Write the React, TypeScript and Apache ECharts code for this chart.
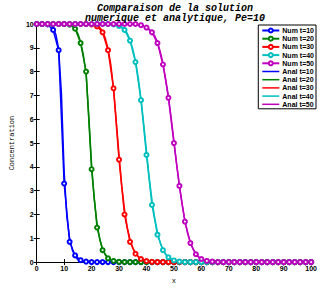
import React, { useEffect, useRef } from "react";
import * as echarts from "echarts";

// Numerical solution grid (x) and concentrations at t = 10..50
const xNum = [
  0, 2, 4, 6, 8, 10, 12, 14, 16, 18, 20, 22, 24, 26, 28, 30, 32, 34, 36, 38, 40,
  42, 44, 46, 48, 50, 52, 54, 56, 58, 60, 62, 64, 66, 68, 70, 72, 74, 76, 78, 80,
  82, 84, 86, 88, 90, 92, 94, 96, 98, 100,
];

const numT10 = [
  10, 10, 9.98, 9.75, 8.9, 3.3, 0.85, 0.28, 0.08, 0.02,
  0, 0, 0, 0, 0, 0, 0, 0, 0, 0, 0, 0, 0, 0, 0, 0, 0, 0, 0, 0, 0,
  0, 0, 0, 0, 0, 0, 0, 0, 0, 0, 0, 0, 0, 0, 0, 0, 0, 0, 0, 0,
];

const numT20 = [
  10, 10, 10, 10, 10, 10,
  9.97, 9.8, 9.2, 8.0, 3.9, 1.45, 0.5, 0.16, 0.05, 0.01,
  0, 0, 0, 0, 0, 0, 0, 0, 0, 0, 0, 0, 0, 0, 0, 0, 0, 0, 0, 0,
  0, 0, 0, 0, 0, 0, 0, 0, 0, 0, 0, 0, 0, 0, 0,
];

const numT30 = [
  10, 10, 10, 10, 10, 10, 10, 10, 10, 10,
  9.98, 9.9, 9.65, 8.9, 7.3, 4.3, 2.0, 0.85, 0.35, 0.13, 0.04, 0.01,
  0, 0, 0, 0, 0, 0, 0, 0, 0, 0, 0, 0, 0, 0, 0,
  0, 0, 0, 0, 0, 0, 0, 0, 0, 0, 0, 0, 0, 0,
];

const numT40 = [
  10, 10, 10, 10, 10, 10, 10, 10, 10, 10, 10, 10, 10, 10,
  9.98, 9.92, 9.75, 9.3, 8.4, 6.8, 4.5, 2.4, 1.15, 0.5, 0.2, 0.07, 0.02,
  0, 0, 0, 0, 0, 0, 0, 0, 0, 0, 0, 0,
  0, 0, 0, 0, 0, 0, 0, 0, 0, 0, 0, 0,
];

const numT50 = [
  10, 10, 10, 10, 10, 10, 10, 10, 10, 10, 10, 10, 10, 10, 10, 10, 10, 10, 10,
  9.95, 9.85, 9.65, 9.2, 8.3, 6.9, 5.0, 3.2, 1.7, 0.8, 0.33, 0.13, 0.05, 0.02,
  0, 0, 0, 0, 0, 0, 0, 0, 0, 0, 0, 0, 0, 0, 0, 0, 0, 0,
];

// Analytical solution as [x, C] points
const analT10: [number, number][] = [
  [0, 10], [4, 10], [5, 9.97], [6, 9.85], [7, 9.55], [8, 8.95], [9, 7.1],
  [10, 3.8], [11, 1.9], [12, 1.0], [13, 0.5], [14, 0.25], [15, 0.1],
  [16, 0.04], [17, 0.01], [18, 0], [100, 0],
];

const analT20: [number, number][] = [
  [0, 10], [12, 10], [13, 9.93], [14, 9.82], [15, 9.6], [16, 9.25], [17, 8.7],
  [18, 7.9], [19, 6.1], [20, 4.1], [21, 2.6], [22, 1.6], [23, 0.95],
  [24, 0.55], [25, 0.3], [26, 0.17], [27, 0.09], [28, 0.04], [29, 0.02],
  [30, 0.01], [31, 0], [100, 0],
];

const analT30: [number, number][] = [
  [0, 10], [21, 10], [22, 9.92], [23, 9.85], [24, 9.7], [25, 9.4], [26, 8.95],
  [27, 8.3], [28, 7.3], [29, 5.9], [30, 4.5], [31, 3.2], [32, 2.2], [33, 1.45],
  [34, 0.95], [35, 0.6], [36, 0.38], [37, 0.22], [38, 0.13], [39, 0.07],
  [40, 0.04], [41, 0.02], [42, 0.01], [44, 0], [100, 0],
];

const analT40: [number, number][] = [
  [0, 10], [28, 10], [30, 9.93], [31, 9.88], [32, 9.78], [33, 9.6], [34, 9.35],
  [35, 8.95], [36, 8.45], [37, 7.75], [38, 6.85], [39, 5.8], [40, 4.65],
  [41, 3.55], [42, 2.6], [43, 1.85], [44, 1.25], [45, 0.82], [46, 0.52],
  [47, 0.32], [48, 0.19], [49, 0.11], [50, 0.06], [51, 0.03], [52, 0.015],
  [54, 0], [100, 0],
];

const analT50: [number, number][] = [
  [0, 10], [36, 10], [38, 9.95], [40, 9.85], [41, 9.78], [42, 9.67], [43, 9.5],
  [44, 9.25], [45, 8.85], [46, 8.35], [47, 7.7], [48, 6.95], [49, 6.05],
  [50, 5.1], [51, 4.1], [52, 3.2], [53, 2.4], [54, 1.75], [55, 1.2], [56, 0.82],
  [57, 0.53], [58, 0.33], [59, 0.2], [60, 0.12], [61, 0.07], [62, 0.04],
  [63, 0.02], [64, 0.01], [66, 0], [100, 0],
];

const numNames = ["Num t=10", "Num t=20", "Num t=30", "Num t=40", "Num t=50"];
const analNames = ["Anal t=10", "Anal t=20", "Anal t=30", "Anal t=40", "Anal t=50"];
const colors = ["#0000ff", "#008000", "#ff0000", "#00bfbf", "#bf00bf"];

const numSeries = [numT10, numT20, numT30, numT40, numT50];
const analSeries = [analT10, analT20, analT30, analT40, analT50];

const tickFont = { fontSize: 7, fontWeight: "bold" as const, fontFamily: "Liberation Sans", color: "#000" };

// plain line sample for the analytical entries of the legend
const lineIcon = "path://M0,0H17V1.5H0Z";

export default function App() {
  const ref = useRef<HTMLDivElement>(null);

  useEffect(() => {
    if (!ref.current) return;
    const chart = echarts.init(ref.current, undefined, { renderer: "svg" });

    const axisCommon = {
      axisLine: { show: true, lineStyle: { color: "#000", width: 1 } },
      axisTick: { show: true, inside: true, length: 3, lineStyle: { color: "#000" } },
      splitLine: { show: false },
    };

    const series: any[] = [];
    numSeries.forEach((vals, i) => {
      series.push({
        name: numNames[i],
        type: "line",
        data: xNum.map((x, j) => [x, vals[j]]),
        symbol: "emptyCircle",
        symbolSize: 4,
        showAllSymbol: true,
        lineStyle: { color: colors[i], width: 1.5 },
        itemStyle: { color: colors[i], borderColor: colors[i], borderWidth: 0.8 },
      });
    });
    analSeries.forEach((pts, i) => {
      series.push({
        name: analNames[i],
        type: "line",
        data: pts,
        symbol: "none",
        lineStyle: { color: colors[i], width: 1.5 },
        itemStyle: { color: colors[i] },
      });
    });

    chart.setOption({
      animation: false,
      title: {
        text: "Comparaison de la solution\nnumerique et analytique, Pe=10",
        left: 170,
        top: -2,
        textAlign: "center",
        textStyle: {
          fontFamily: "Liberation Mono",
          fontStyle: "italic",
          fontWeight: "bold",
          fontSize: 10,
          lineHeight: 10,
          color: "#000",
        },
      },
      legend: {
        data: [
          ...numNames.map((name) => ({ name })),
          ...analNames.map((name, i) => ({ name, icon: lineIcon, itemStyle: { color: colors[i] } })),
        ],
        orient: "vertical",
        right: 4,
        top: 25,
        backgroundColor: "#fff",
        borderColor: "#000",
        borderWidth: 1,
        borderRadius: 0,
        padding: [2, 2, 1, 3],
        itemWidth: 17,
        itemHeight: 5,
        itemGap: 1.2,
        symbolKeepAspect: true,
        textStyle: { ...tickFont, padding: [0, 0, 0, -2], lineHeight: 6 },
      },
      grid: { left: 25, right: 4, top: 24, bottom: 20 },
      xAxis: [
        {
          type: "value",
          min: 0,
          max: 100,
          interval: 10,
          ...axisCommon,
          axisLabel: { ...tickFont, margin: 3 },
          name: "x",
          nameLocation: "middle",
          nameGap: 11,
          nameTextStyle: { fontSize: 7, fontFamily: "Liberation Mono", color: "#000" },
        },
        {
          type: "value",
          position: "top",
          min: 0,
          max: 100,
          interval: 10,
          ...axisCommon,
          axisLabel: { show: false },
        },
      ],
      yAxis: [
        {
          type: "value",
          min: 0,
          max: 10,
          interval: 1,
          ...axisCommon,
          axisLabel: { ...tickFont, margin: 3 },
          name: "Concentration",
          nameLocation: "middle",
          nameRotate: 90,
          nameGap: 19,
          nameTextStyle: { fontSize: 7, fontFamily: "Liberation Mono", color: "#000" },
        },
        {
          type: "value",
          position: "right",
          min: 0,
          max: 10,
          interval: 1,
          ...axisCommon,
          axisLabel: { show: false },
        },
      ],
      series,
    });

    return () => chart.dispose();
  }, []);

  return (
    <div
      ref={ref}
      style={{ position: "fixed", left: 0, top: 0, width: 320, height: 289, background: "#fff" }}
    />
  );
}
